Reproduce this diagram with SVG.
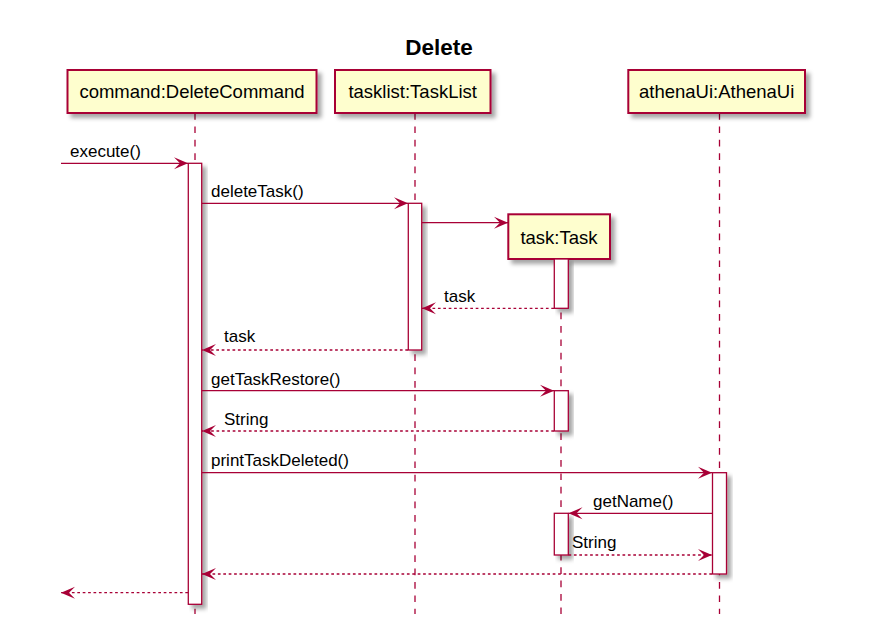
<svg xmlns="http://www.w3.org/2000/svg" width="879" height="636" viewBox="0 0 879 636">
<style>
.box{fill:#FEFECE;stroke:#A80036;stroke-width:2}
.act{fill:#FFFFFF;stroke:#A80036;stroke-width:1.3}
.life{stroke:#A80036;stroke-width:1.3;stroke-dasharray:6.7,6.7;fill:none}
.msg{stroke:#A80036;stroke-width:1.3;fill:none;marker-end:url(#ah)}
.ret{stroke:#A80036;stroke-width:1.3;fill:none;stroke-dasharray:2.7,2.7;marker-end:url(#ah)}
.pt{font-family:"Liberation Sans",Arial,sans-serif;font-size:18.5px;fill:#000;text-anchor:middle}
.mt{font-family:"Liberation Sans",Arial,sans-serif;font-size:17px;fill:#000}
.title{font-family:"Liberation Sans",Arial,sans-serif;font-size:22.5px;font-weight:bold;fill:#000;text-anchor:middle}
</style>
<defs>
<filter id="sh" x="-20%" y="-20%" width="160%" height="160%">
<feGaussianBlur in="SourceAlpha" stdDeviation="2"/>
<feOffset dx="4" dy="4" result="o"/>
<feFlood flood-color="#000" flood-opacity="0.35"/>
<feComposite in2="o" operator="in"/>
<feMerge><feMergeNode/><feMergeNode in="SourceGraphic"/></feMerge>
</filter>
<marker id="ah" viewBox="-15 -7 16 14" refX="0" refY="0" markerWidth="16" markerHeight="14" markerUnits="userSpaceOnUse" orient="auto">
<path d="M0,0 L-14,-6 L-8,0 L-14,6 Z" fill="#A80036"/>
</marker>
</defs>
<rect width="879" height="636" fill="#FFFFFF"/>
<text class="title" x="439" y="55">Delete</text>

<g id="command">
<line class="life" x1="195" y1="113" x2="195" y2="614"/>
<rect class="box" x="67.5" y="70" width="249" height="43" filter="url(#sh)"/>
<text class="pt" x="192" y="98">command:DeleteCommand</text>
<rect class="act" x="188.3" y="163.3" width="13.4" height="441" filter="url(#sh)"/>
</g>

<g id="tasklist">
<line class="life" x1="415" y1="113" x2="415" y2="614"/>
<rect class="box" x="335" y="70" width="155.5" height="43" filter="url(#sh)"/>
<text class="pt" x="412.7" y="98">tasklist:TaskList</text>
<rect class="act" x="408.3" y="203.3" width="13.4" height="146.7" filter="url(#sh)"/>
</g>

<g id="task">
<line class="life" x1="561" y1="259" x2="561" y2="616"/>
<rect class="box" x="508.3" y="214.3" width="101.7" height="44.7" filter="url(#sh)"/>
<text class="pt" x="559" y="243.5">task:Task</text>
<rect class="act" x="554.3" y="259" width="14" height="49.3" filter="url(#sh)"/>
<rect class="act" x="554.3" y="390.7" width="14" height="40.3" filter="url(#sh)"/>
<rect class="act" x="554.3" y="513.3" width="14" height="41.7" filter="url(#sh)"/>
</g>

<g id="athenaUi">
<line class="life" x1="719.5" y1="113" x2="719.5" y2="614"/>
<rect class="box" x="628.3" y="70" width="176.7" height="43" filter="url(#sh)"/>
<text class="pt" x="716.7" y="98.3">athenaUi:AthenaUi</text>
<rect class="act" x="712.5" y="472.7" width="14" height="101.3" filter="url(#sh)"/>
</g>

<g id="connectors">
<line class="msg" x1="61" y1="163.3" x2="188" y2="163.3"/>
<text class="mt" x="70" y="157">execute()</text>
<line class="msg" x1="202" y1="203.3" x2="408" y2="203.3"/>
<text class="mt" x="211" y="197">deleteTask()</text>
<line class="msg" x1="422" y1="222.7" x2="508" y2="222.7"/>
<line class="ret" x1="554" y1="308.3" x2="422" y2="308.3"/>
<text class="mt" x="444" y="302">task</text>
<line class="ret" x1="408" y1="350" x2="202" y2="350"/>
<text class="mt" x="224" y="342">task</text>
<line class="msg" x1="202" y1="390.7" x2="554" y2="390.7"/>
<text class="mt" x="211" y="385">getTaskRestore()</text>
<line class="ret" x1="554" y1="431" x2="202" y2="431"/>
<text class="mt" x="224" y="425">String</text>
<line class="msg" x1="202" y1="472.7" x2="712" y2="472.7"/>
<text class="mt" x="211" y="466">printTaskDeleted()</text>
<line class="msg" x1="712" y1="513.3" x2="568.5" y2="513.3"/>
<text class="mt" x="593" y="507">getName()</text>
<line class="ret" x1="568.5" y1="555" x2="712" y2="555"/>
<text class="mt" x="572" y="548">String</text>
<line class="ret" x1="712" y1="574" x2="202" y2="574"/>
<line class="ret" x1="188" y1="592.7" x2="61" y2="592.7"/>
</g>
</svg>
